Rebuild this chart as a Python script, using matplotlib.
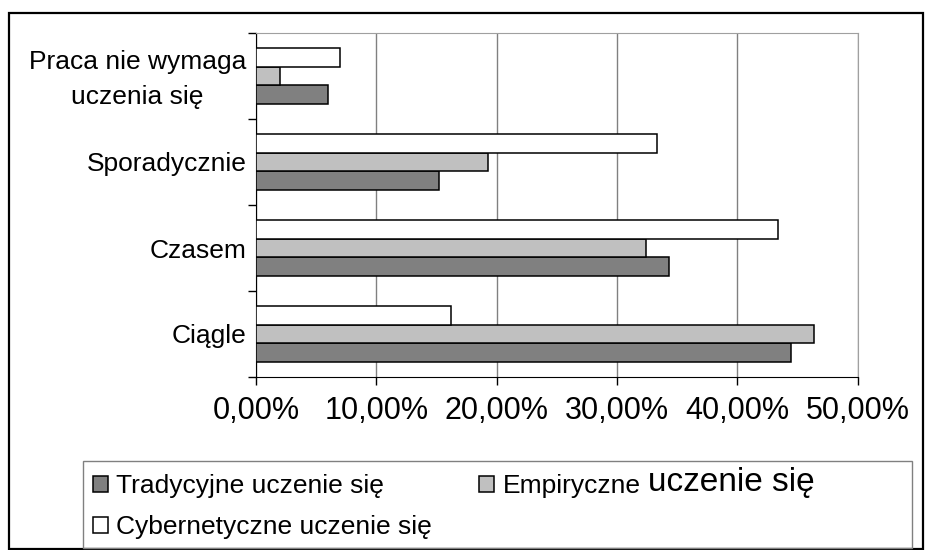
import numpy as np
import matplotlib
matplotlib.use('Agg')
import matplotlib.pyplot as plt
from matplotlib.patches import Rectangle
from matplotlib.transforms import ScaledTranslation

plt.rcParams['font.family'] = ['Liberation Sans', 'DejaVu Sans']

# data (percent)
categories = ['Ciągle', 'Czasem', 'Sporadycznie', 'Praca nie wymaga\nuczenia się']
tradycyjne = [44.5, 34.3, 15.2, 6.0]
empiryczne = [46.4, 32.4, 19.3, 2.0]
cybernetyczne = [16.2, 43.4, 33.3, 7.0]
xticks = [0, 10, 20, 30, 40, 50]
xtick_labels = ['0,00%', '10,00%', '20,00%', '30,00%', '40,00%', '50,00%']

W, H = 927, 550
fig = plt.figure(figsize=(W / 100, H / 100), dpi=100)
ax = fig.add_axes([256 / W, 1 - 377 / H, (857.5 - 256) / W, (377 - 33) / H])

y = np.arange(len(categories))
h = 0.22
b1 = ax.barh(y - h, tradycyjne, h, color='#808080', edgecolor='black', lw=1.1, zorder=3)
b2 = ax.barh(y, empiryczne, h, color='#c0c0c0', edgecolor='black', lw=1.1, zorder=3)
b3 = ax.barh(y + h, cybernetyczne, h, color='white', edgecolor='black', lw=1.1, zorder=3)

ax.set_xlim(0, 50)
ax.set_ylim(-0.5, len(categories) - 0.5)
ax.set_xticks(xticks)
ax.set_xticklabels(xtick_labels, fontsize=22)
ax.tick_params(axis='x', direction='out', length=6, width=1, pad=8)

# ticks between groups, labels at group centres
ax.set_yticks(np.arange(-0.5, len(categories), 1))
ax.set_yticklabels([])
ax.tick_params(axis='y', which='major', direction='out', length=6, width=1)
ax.set_yticks(y, minor=True)
ax.set_yticklabels(categories, minor=True, fontsize=19, linespacing=1.6)
ax.tick_params(axis='y', which='minor', length=0, pad=7)
for t in ax.get_yticklabels(minor=True):
    t.set_multialignment('center')
# two-line label sits a bit higher in the original
top_lab = ax.get_yticklabels(minor=True)[-1]
top_lab.set_transform(top_lab.get_transform() + ScaledTranslation(0, 5 / 100, fig.dpi_scale_trans))

ax.xaxis.grid(True, color='#808080', lw=1)
ax.set_axisbelow(True)
ax.spines['top'].set_color('#a0a0a0')
ax.spines['right'].set_color('#a0a0a0')
ax.spines['left'].set_color('black')
ax.spines['bottom'].set_color('black')

# outer frame of the figure
fig.patches.append(Rectangle((9 / W, 1 / H), (923 - 9) / W, (549 - 13) / H,
                             transform=fig.transFigure, fill=False, edgecolor='black', lw=1.6))
# legend frame
fig.patches.append(Rectangle((83 / W, 1 - 548 / H), (912 - 83) / W, (548 - 461) / H,
                             transform=fig.transFigure, fill=False, edgecolor='#808080', lw=1))

leg = fig.legend([b1, b3, b2],
                 ['Tradycyjne uczenie się', 'Cybernetyczne uczenie się', 'Empiryczne'],
                 ncol=2, loc='upper left', bbox_to_anchor=(93 / W, 1 - 474 / H),
                 frameon=False, fontsize=19, handlelength=0.55, handleheight=0.55,
                 handletextpad=0.33, columnspacing=1.8, labelspacing=0.65,
                 borderpad=0, borderaxespad=0)

# second part of the Empiryczne label is bigger in the original
fig.canvas.draw()
bb = leg.get_texts()[2].get_window_extent()
fig.text((bb.x1 + 7) / W, bb.y0 / H, 'uczenie się', fontsize=24, va='bottom', ha='left')

fig.savefig('out.png', dpi=100)
